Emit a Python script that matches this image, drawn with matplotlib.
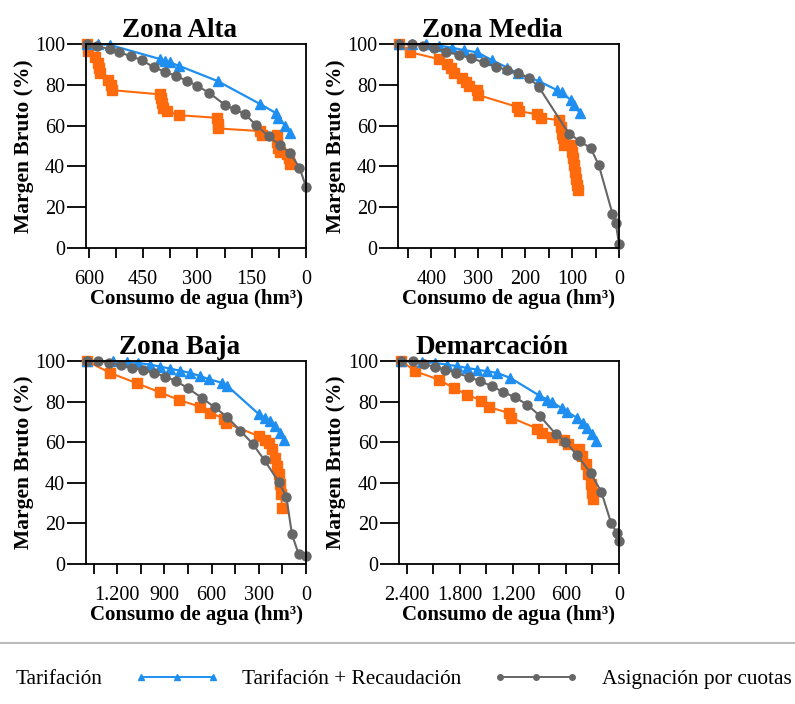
import matplotlib
matplotlib.use('Agg')
import matplotlib.pyplot as plt
from matplotlib.lines import Line2D

plt.rcParams['font.family'] = ['Liberation Serif', 'DejaVu Serif']

# colours
c_tar = '#FF6A0D'
c_rec = '#1E8FF0'
c_cuo = '#666666'

titles = ['Zona Alta', 'Zona Media', 'Zona Baja', 'Demarcación']
series_names = ['Tarifación', 'Tarifación + Recaudación', 'Asignación por cuotas']

# ---- Zona Alta
alta_tar_x = [605, 602, 583, 574, 571, 569, 546, 540, 537, 403, 401, 398, 394, 385, 350, 246, 244, 242,
              126, 122, 80, 79, 76, 71, 53, 48, 45]
alta_tar_y = [100, 96.6, 93.8, 90.5, 88, 85.6, 82.3, 80, 77.4, 75.3, 73.3, 71, 68.4, 67.1, 65.1, 63.8, 61, 58.6,
              57.3, 55.3, 55.3, 52, 48.8, 47.1, 46.3, 43.9, 41.4]
alta_rec_x = [606, 574, 541, 403, 389, 377, 352, 244, 126, 82, 76, 57, 45]
alta_rec_y = [100, 100, 99.5, 92.6, 91.8, 91, 89.4, 81.8, 70.5, 66, 63.8, 59.9, 56.5]
alta_cuo_x = [606, 577, 543, 516, 485, 454, 420, 389, 359, 329, 300, 268, 223, 196, 168, 138, 103, 73, 45, 18, 0]
alta_cuo_y = [100, 99, 97.5, 95.9, 94.1, 92.1, 88.5, 86.4, 84.3, 82, 79.4, 76.1, 70, 67.9, 65.5, 60.2, 54.8,
              50.4, 46.8, 39.4, 30]

# ---- Zona Media
media_tar_x = [468, 445, 384, 366, 359, 352, 334, 326, 320, 302, 300, 217, 213, 174, 167, 128, 124, 121, 118.5,
               117, 103, 100, 97, 96, 94, 92, 90, 87.5]
media_tar_y = [100, 96, 92.6, 90, 88, 85.6, 83.5, 81.5, 79.5, 77.4, 75, 69.2, 67.1, 65.5, 63.8, 62.7, 59.4, 56.1,
               53.7, 50.7, 50.7, 47, 43.9, 40.6, 37.3, 34, 30.8, 28.3]
media_rec_x = [469, 441, 412, 384, 356, 331, 302, 270, 238, 216, 171, 132, 121, 103, 96, 84]
media_rec_y = [100, 100, 99.8, 99.2, 98.2, 97, 95.9, 92, 88.4, 85.6, 81.8, 77.4, 76.3, 72.5, 70, 66.4]
media_cuo_x = [468, 442, 418, 395, 368, 341, 315, 288, 263, 238, 215, 192, 171, 107, 83, 60, 43, 14, 7, 0]
media_cuo_y = [100, 99.8, 99.2, 98.2, 96.2, 94.6, 93, 91, 88.9, 87.2, 85.6, 83.5, 79, 56.1, 52.4, 48.8, 40.6,
               16.9, 12.4, 2.1]

# ---- Zona Baja
baja_tar_x = [1389, 1245, 1071, 931, 804, 672, 609, 520, 509, 301, 259, 238, 216, 199, 185, 174, 163, 157, 153]
baja_tar_y = [99.8, 94.1, 88.9, 84.6, 80.7, 77.4, 74.4, 71.6, 69.5, 63, 61.3, 59.7, 56.4, 52.3, 48.2, 44.1,
              39.2, 34.3, 27.7]
baja_rec_x = [1393, 1224, 1139, 1065, 990, 927, 863, 800, 736, 672, 619, 534, 503, 301, 259, 227, 195, 168, 142]
baja_rec_y = [100, 99.8, 99.5, 99, 98.2, 97.2, 96.2, 95.2, 94.1, 92.5, 91.1, 89.2, 87.9, 73.9, 72, 70.3, 67.9,
              64.6, 61.3]
baja_cuo_x = [1389, 1319, 1249, 1177, 1107, 1037, 965, 895, 825, 753, 662, 581, 503, 418, 339, 263, 174, 125,
              89, 47, 0]
baja_cuo_y = [100, 100, 99, 97.9, 96.6, 95.4, 94.1, 92.3, 90, 86.7, 81.8, 77.2, 72.5, 65.7, 59.2, 51, 40.5,
              33.1, 14.6, 4.8, 3.9]

# ---- Demarcación
dem_tar_x = [2464, 2305, 2041, 1871, 1720, 1557, 1467, 1247, 1217, 926, 869, 756, 624, 578, 454, 416, 378,
             348, 321, 302, 291]
dem_tar_y = [100, 94.9, 90.8, 86.7, 83.4, 80.5, 77.2, 74.4, 72, 66.7, 64.6, 62.5, 61.3, 58.9, 56.4, 53.1, 49,
             44.1, 39.2, 35.1, 31.8]
dem_rec_x = [2464, 2230, 2079, 1946, 1833, 1720, 1606, 1493, 1379, 1228, 907, 813, 756, 642, 586, 472, 408,
             359, 310, 265]
dem_rec_y = [100, 99.5, 99, 98.2, 97.4, 96.6, 95.7, 94.9, 94.1, 91.6, 83.1, 81, 79.7, 76.6, 74.8, 72, 69.5,
             67, 63.8, 60.5]
dem_cuo_x = [2464, 2336, 2211, 2086, 1965, 1841, 1701, 1568, 1436, 1315, 1179, 1039, 899, 718, 605, 480, 321,
             200, 87, 19, 0]
dem_cuo_y = [100, 99.8, 98.5, 97, 95.7, 94.1, 92.1, 90, 87.5, 84.8, 82.1, 78.5, 73.1, 64.1, 60.2, 53.9, 44.9,
             35.6, 20, 15.1, 11.3]

# axis ticks
alta_ticks = [600, 525, 450, 375, 300, 225, 150, 75, 0]
alta_labels = ['600', '', '450', '', '300', '', '150', '', '0']
media_ticks = [450, 400, 350, 300, 250, 200, 150, 100, 50, 0]
media_labels = ['', '400', '', '300', '', '200', '', '100', '', '0']
baja_ticks = [1350, 1200, 1050, 900, 750, 600, 450, 300, 150, 0]
baja_labels = ['', '1.200', '', '900', '', '600', '', '300', '', '0']
dem_ticks = [2400, 2100, 1800, 1500, 1200, 900, 600, 300, 0]
dem_labels = ['2.400', '', '1.800', '', '1.200', '', '600', '', '0']

xlims = [608, 471, 1398, 2494]

panels = [
    (alta_tar_x, alta_tar_y, alta_rec_x, alta_rec_y, alta_cuo_x, alta_cuo_y, alta_ticks, alta_labels),
    (media_tar_x, media_tar_y, media_rec_x, media_rec_y, media_cuo_x, media_cuo_y, media_ticks, media_labels),
    (baja_tar_x, baja_tar_y, baja_rec_x, baja_rec_y, baja_cuo_x, baja_cuo_y, baja_ticks, baja_labels),
    (dem_tar_x, dem_tar_y, dem_rec_x, dem_rec_y, dem_cuo_x, dem_cuo_y, dem_ticks, dem_labels),
]

positions = [
    [0.1082, 0.6477, 0.2767, 0.2898],
    [0.5006, 0.6477, 0.2780, 0.2898],
    [0.1082, 0.1989, 0.2767, 0.2884],
    [0.5015, 0.1989, 0.2770, 0.2884],
]

fig = plt.figure(figsize=(7.95, 7.04), dpi=100)

handles = None
for i, (tx, ty, rx, ry, cx, cy, ticks, labels) in enumerate(panels):
    ax = fig.add_axes(positions[i])
    l1, = ax.plot(tx, ty, color=c_tar, marker='s', ms=6.5, lw=1.5, clip_on=False)
    l2, = ax.plot(rx, ry, color=c_rec, marker='^', ms=6.5, lw=1.6, clip_on=False)
    l3, = ax.plot(cx, cy, color=c_cuo, marker='o', ms=6.5, lw=1.5, clip_on=False)
    handles = [l1, l2, l3]

    ax.set_xlim(xlims[i], 0)
    ax.set_ylim(0, 100)
    ax.set_xticks(ticks, labels=labels)
    ax.set_yticks([0, 20, 40, 60, 80, 100])
    ax.tick_params(axis='both', direction='out', labelsize=14.5, width=1.3, colors='black')
    ax.tick_params(axis='x', length=7, pad=9)
    ax.tick_params(axis='y', length=14, pad=1)
    for s in ax.spines.values():
        s.set_linewidth(1.3)

    ax.set_title(titles[i], fontsize=19.5, fontweight='bold', x=0.425, pad=5)
    ax.set_xlabel('Consumo de agua (hm³)', fontsize=15, fontweight='bold', labelpad=0)
    ax.set_ylabel('Margen Bruto (%)', fontsize=15.5, fontweight='bold', labelpad=1)

# separator above legend
fig.add_artist(Line2D([0, 1], [0.087, 0.087], transform=fig.transFigure, color='#bbbbbb', lw=1.5))

leg_handles = [Line2D([], [], color=h.get_color(), marker=h.get_marker(), ms=4, lw=1.4) for h in handles]
fig.legend(leg_handles, series_names, loc='center left', bbox_to_anchor=(-0.140, 0.035),
           ncol=3, frameon=False, handlelength=4.0, handletextpad=1.08, columnspacing=1.5,
           fontsize=15.3, numpoints=3)

plt.savefig('out.png', dpi=100)
